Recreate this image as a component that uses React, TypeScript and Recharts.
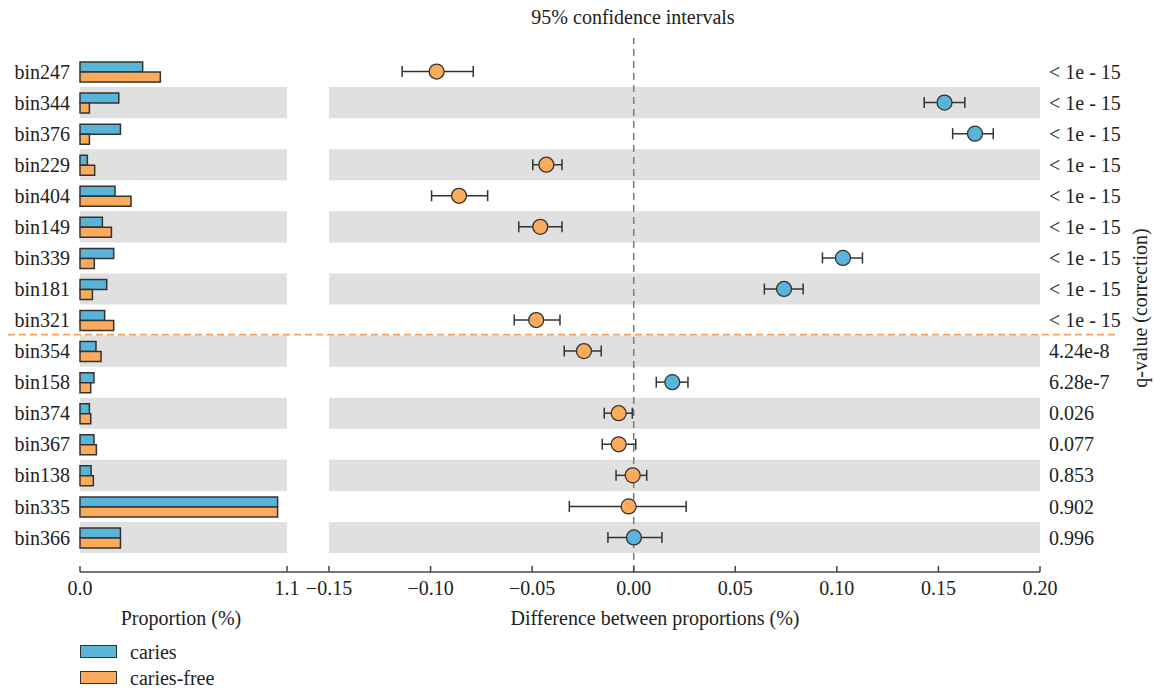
import React from "react";
import {
  Bar,
  BarChart,
  ComposedChart,
  ErrorBar,
  ReferenceArea,
  ReferenceLine,
  Scatter,
  XAxis,
  YAxis,
} from "recharts";

const bins = [
  "bin247", "bin344", "bin376", "bin229", "bin404", "bin149", "bin339", "bin181",
  "bin321", "bin354", "bin158", "bin374", "bin367", "bin138", "bin335", "bin366",
];
const caries = [0.333, 0.206, 0.215, 0.039, 0.186, 0.119, 0.179, 0.142, 0.131, 0.085, 0.074, 0.05, 0.074, 0.059, 1.05, 0.215];
const cariesFree = [0.427, 0.05, 0.05, 0.078, 0.271, 0.167, 0.076, 0.066, 0.179, 0.112, 0.057, 0.057, 0.087, 0.071, 1.05, 0.215];
const diffs = [-0.097, 0.153, 0.168, -0.043, -0.086, -0.046, 0.103, 0.074, -0.048, -0.0245, 0.019, -0.0074, -0.0074, -0.0005, -0.0025, 0.0001];
const ciLow = [-0.114, 0.143, 0.157, -0.0497, -0.0995, -0.0566, 0.0929, 0.0643, -0.0588, -0.0342, 0.0111, -0.0145, -0.0155, -0.0087, -0.0317, -0.0127];
const ciHigh = [-0.079, 0.163, 0.177, -0.0353, -0.0719, -0.0353, 0.1126, 0.0834, -0.0363, -0.016, 0.0267, -0.0007, 0.001, 0.0064, 0.0258, 0.0139];
const qValues = [
  "< 1e - 15", "< 1e - 15", "< 1e - 15", "< 1e - 15", "< 1e - 15", "< 1e - 15",
  "< 1e - 15", "< 1e - 15", "< 1e - 15", "4.24e-8", "6.28e-7", "0.026", "0.077",
  "0.853", "0.902", "0.996",
];
const significantCount = 9;
const propTicks = [0, 1.1];
const diffTicks = [-0.15, -0.1, -0.05, 0, 0.05, 0.1, 0.15, 0.2];

const BLUE = "#58b4d8";
const ORANGE = "#fcab5c";
const GRAY = "#e0e0e0";
const INK = "#222";

// layout
const PLOT_TOP = 38;
const AXIS_Y = 572;
const PAD = { top: 18, bottom: 19 };
const ROW_H = (AXIS_Y - PLOT_TOP - PAD.top - PAD.bottom) / bins.length;

const rows = bins.map((name, i) => ({
  name,
  caries: caries[i],
  cariesFree: cariesFree[i],
  diff: diffs[i],
  err: [diffs[i] - ciLow[i], ciHigh[i] - diffs[i]],
}));
const shaded = bins.filter((_, i) => i % 2 === 1);

const tickStyle = { fill: INK, fontSize: 20 };
const fmtDiff = (v: number) => (v < 0 ? "\u2212" : "") + Math.abs(v).toFixed(2);

const Dot = (props: any) => {
  const d = props.payload ? props.payload.diff : 0;
  return (
    <circle
      cx={props.cx}
      cy={props.cy}
      r={7.5}
      fill={d > 0 ? BLUE : ORANGE}
      stroke="#333"
      strokeWidth={1.3}
    />
  );
};

const text = (extra: React.CSSProperties): React.CSSProperties => ({
  position: "absolute",
  fontSize: 20,
  lineHeight: "24px",
  color: INK,
  whiteSpace: "nowrap",
  ...extra,
});

const App = () => {
  const splitY = PLOT_TOP + PAD.top + significantCount * ROW_H - 1;
  return (
    <div
      style={{
        position: "absolute",
        left: 0,
        top: 0,
        width: 1155,
        height: 690,
        background: "#fff",
        fontFamily: "'Liberation Serif', 'DejaVu Serif', serif",
      }}
    >
      <div style={{ position: "absolute", left: 0, top: 0 }}>
        <BarChart
          width={329}
          height={612}
          data={rows}
          layout="vertical"
          margin={{ top: PLOT_TOP, right: 0, bottom: 0, left: 0 }}
          barSize={10}
          barGap={0}
        >
          {shaded.map((n) => (
            <ReferenceArea key={n} y1={n} y2={n} fill={GRAY} fillOpacity={1} strokeWidth={0} />
          ))}
          <XAxis
            type="number"
            domain={[0, 1.1]}
            ticks={propTicks}
            tickFormatter={(v) => v.toFixed(1)}
            padding={{ left: 0, right: 42 }}
            height={40}
            tickSize={-6}
            tickMargin={15}
            stroke="#444"
            strokeWidth={1.5}
            tick={tickStyle}
          />
          <YAxis
            type="category"
            dataKey="name"
            width={80}
            padding={PAD}
            tickLine={false}
            axisLine={false}
            tickMargin={4}
            interval={0}
            tick={tickStyle}
          />
          <Bar dataKey="caries" fill={BLUE} stroke="#333" strokeWidth={1.5} isAnimationActive={false} />
          <Bar dataKey="cariesFree" fill={ORANGE} stroke="#333" strokeWidth={1.5} isAnimationActive={false} />
        </BarChart>
      </div>

      <div style={{ position: "absolute", left: 299, top: 0 }}>
        <ComposedChart
          width={856}
          height={612}
          data={rows}
          layout="vertical"
          margin={{ top: PLOT_TOP, right: 0, bottom: 0, left: 30 }}
        >
          {shaded.map((n) => (
            <ReferenceArea key={n} yAxisId="b" y1={n} y2={n} fill={GRAY} fillOpacity={1} strokeWidth={0} />
          ))}
          <XAxis
            type="number"
            dataKey="diff"
            domain={[-0.15, 0.2]}
            ticks={diffTicks}
            tickFormatter={fmtDiff}
            height={40}
            tickSize={-6}
            tickMargin={15}
            stroke="#444"
            strokeWidth={1.5}
            tick={tickStyle}
          />
          <YAxis yAxisId="b" type="category" scale="band" dataKey="name" hide padding={PAD} interval={0} />
          <YAxis
            yAxisId="q"
            orientation="right"
            type="category"
            scale="band"
            dataKey="name"
            width={115}
            padding={PAD}
            tickLine={false}
            axisLine={false}
            tickSize={6}
            tickMargin={3}
            interval={0}
            tick={tickStyle}
            tickFormatter={(_v, i) => qValues[i]}
          />
          <ReferenceLine x={0} yAxisId="b" stroke="#7a7a7a" strokeDasharray="7 5" strokeWidth={1.5} />
          <Scatter yAxisId="b" dataKey="diff" isAnimationActive={false} shape={Dot}>
            <ErrorBar dataKey="err" direction="x" width={5.5} stroke="#333" strokeWidth={1.5} />
          </Scatter>
        </ComposedChart>
      </div>

      <svg
        width={1155}
        height={690}
        style={{ position: "absolute", left: 0, top: 0, pointerEvents: "none" }}
      >
        <line
          x1={8}
          x2={1118}
          y1={splitY}
          y2={splitY}
          stroke="#f5a060"
          strokeWidth={1.8}
          strokeDasharray="7 4"
        />
      </svg>

      <div style={text({ left: 633, top: 5, transform: "translateX(-50%)" })}>
        95% confidence intervals
      </div>
      <div style={text({ left: 181, top: 606, transform: "translateX(-50%)" })}>
        Proportion (%)
      </div>
      <div style={text({ left: 655, top: 606, transform: "translateX(-50%)" })}>
        Difference between proportions (%)
      </div>
      <div
        style={text({
          left: 1140,
          top: 308,
          transform: "translate(-50%, -50%) rotate(-90deg)",
        })}
      >
        q-value (correction)
      </div>

      <div style={{ position: "absolute", left: 80, top: 645, width: 35, height: 11, background: BLUE, border: "1.5px solid #333" }} />
      <div style={text({ left: 130, top: 640 })}>caries</div>
      <div style={{ position: "absolute", left: 80, top: 671, width: 35, height: 11, background: ORANGE, border: "1.5px solid #333" }} />
      <div style={text({ left: 130, top: 666 })}>caries-free</div>
    </div>
  );
};

export default App;
